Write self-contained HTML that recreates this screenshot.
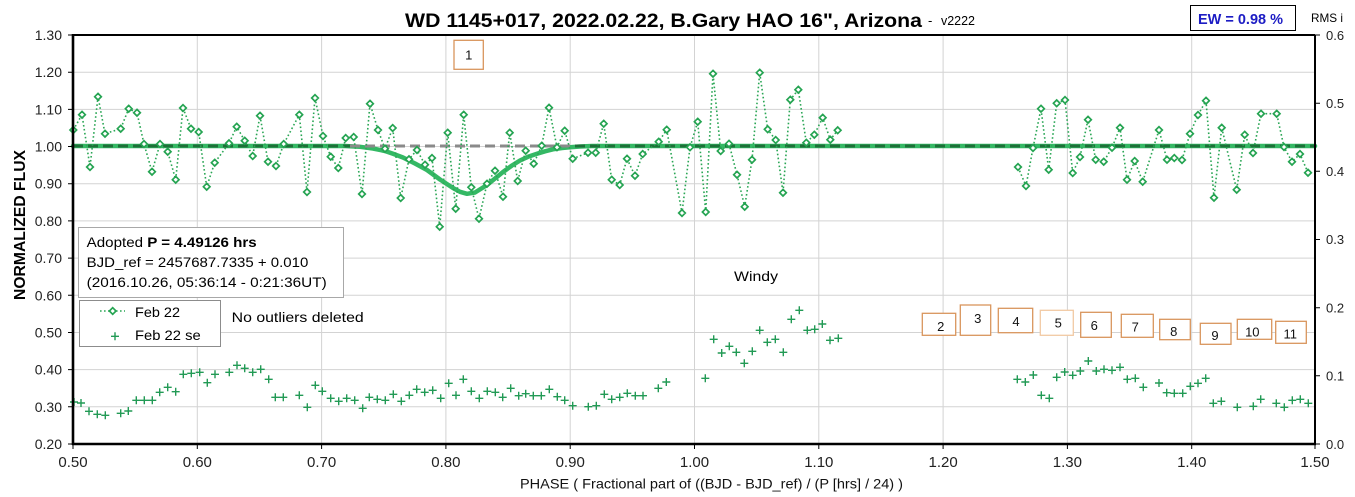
<!DOCTYPE html>
<html><head><meta charset="utf-8"><style>
html,body{margin:0;padding:0;background:#fff;}
svg{display:block;}
text{font-family:"Liberation Sans",Arial,sans-serif;}
</style></head><body>
<svg width="1355" height="497" viewBox="0 0 1355 497" xmlns="http://www.w3.org/2000/svg">
<rect width="1355" height="497" fill="#fff"/>
<!-- gridlines -->
<g stroke="#d3d3d3" stroke-width="1">
<path d="M197.3,35V444M321.6,35V444M445.9,35V444M570.2,35V444M694.5,35V444M818.8,35V444M943.1,35V444M1067.4,35V444M1191.7,35V444"/>
<path d="M73,72.2H1315M73,109.4H1315M73,146.5H1315M73,183.7H1315M73,220.9H1315M73,258.1H1315M73,295.3H1315M73,332.5H1315M73,369.6H1315M73,406.8H1315"/>
</g>
<!-- title -->
<text x="405" y="27" font-size="19" font-weight="bold" textLength="517" lengthAdjust="spacingAndGlyphs">WD 1145+017, 2022.02.22, B.Gary HAO 16", Arizona</text>
<text x="928" y="25" font-size="13">-</text>
<text x="941" y="25" font-size="13" textLength="34" lengthAdjust="spacingAndGlyphs">v2222</text>
<rect x="1190.5" y="5.5" width="105" height="25" fill="#fff" stroke="#000" stroke-width="1"/>
<text x="1240.5" y="24" font-size="15" font-weight="bold" fill="#1c1cc4" text-anchor="middle" textLength="85" lengthAdjust="spacingAndGlyphs">EW = 0.98 %</text>
<text x="1311" y="22" font-size="12" textLength="32" lengthAdjust="spacingAndGlyphs">RMS i</text>
<!-- model -->
<polyline fill="none" stroke="#34b864" stroke-width="4.5" stroke-linejoin="round" stroke-linecap="round" points="73,146 345,146 360,146.8 373,148.5 385,151 393,153.8 403,157.5 415,163.5 427,170 440,179.5 453,188 460,191.8 467,193.8 475,192.5 487,185 495,178.5 503,172 512,165.5 520,160.5 528,156.8 537,153.8 545,151.3 553,149.3 562,148 570,147.2 580,146.5 592,146 1315,146"/>
<path d="M73,146H350" stroke="#1d7038" stroke-width="3" stroke-dasharray="10,5"/>
<path d="M350,146H575" stroke="#8a8a8a" stroke-width="3" stroke-dasharray="10,5"/>
<path d="M575,146H1315" stroke="#1d7038" stroke-width="3" stroke-dasharray="10,5"/>
<!-- data dotted lines -->
<g fill="none" stroke="#2aa655" stroke-width="1.6" stroke-dasharray="1.6,2.4">
<polyline points="73.3,130 82,114.7 90,167 98,96.7 105,133.7 120.7,128.7 128.7,108.7 137,112.7 144,144 152,171.7 160,144 167.7,151.7 175.7,179.7 183,108 191,128.7 198.7,132 206.7,186.7 214.7,162.7 229,143.3 236.7,126.7 244.7,140.7 252.7,156 260,115.7 268,161.7 276,166 283.7,144 299.3,114.7 307,192 315,98 323,136 330.7,156.7 338.3,168 345.7,138 353.7,137 362,194 370,103.7 378,130 385,148.7 392.7,128 400.7,198 409,159.3 417,150 425,164.7 432,158 439.7,226.7 447.7,132.7 455.7,208.7 463.7,114.7 471.3,187.3 479,218.7 487,183.7 495,170.7 503,196.7 509.7,132.7 517.7,181 525.7,150.7 533.7,163.7 541.7,145.7 549,107.7 557,147.3 564.7,130.7 572.7,158.7 588,152.7 595.7,152.7 603.7,123.7 611.7,179.7 619.7,185 627,158.7 635,175.7 642.7,154 658.7,141.7 666.7,129.7 682,213 690,147.3 697.7,121.7 705.7,212 713,73.7 720.7,151 729,143.7 737,174.7 744.7,206.7 752,159.7 759.7,72.7 767.7,129.3 775.7,140 783,192.7 790.3,99.7 798.3,89.7 806.3,142.7 814.3,134.7 822.7,117.7 830.3,139.7 837.7,130.3"/>
<polyline points="1018,167 1026,186 1033,148 1041,108.7 1048.7,169.7 1056.7,103.3 1065,100 1072.7,173 1080,157 1088,119.7 1095.7,159.7 1103.7,161.7 1112,147.7 1120,127.7 1127,179.7 1134.7,161 1142.7,181.7 1159,130 1167,159.7 1174.3,158 1182,160 1190,133.7 1198,115 1206,100.7 1214,197.7 1221.7,127.7 1236.7,189.7 1244.7,134.7 1253,153 1261,113.7 1276.7,113.7 1284,147 1292,161.7 1300,154 1308,172.7"/>
</g>
<!-- diamonds -->
<path id="dm" fill="#fff" stroke="#25a452" stroke-width="1.7" d="
M73.3,126.7l3.3,3.3l-3.3,3.3l-3.3,-3.3z M82,111.4l3.3,3.3l-3.3,3.3l-3.3,-3.3z M90,163.7l3.3,3.3l-3.3,3.3l-3.3,-3.3z M98,93.4l3.3,3.3l-3.3,3.3l-3.3,-3.3z M105,130.4l3.3,3.3l-3.3,3.3l-3.3,-3.3z M120.7,125.4l3.3,3.3l-3.3,3.3l-3.3,-3.3z M128.7,105.4l3.3,3.3l-3.3,3.3l-3.3,-3.3z M137,109.4l3.3,3.3l-3.3,3.3l-3.3,-3.3z M144,140.7l3.3,3.3l-3.3,3.3l-3.3,-3.3z M152,168.4l3.3,3.3l-3.3,3.3l-3.3,-3.3z M160,140.7l3.3,3.3l-3.3,3.3l-3.3,-3.3z M167.7,148.4l3.3,3.3l-3.3,3.3l-3.3,-3.3z M175.7,176.4l3.3,3.3l-3.3,3.3l-3.3,-3.3z M183,104.7l3.3,3.3l-3.3,3.3l-3.3,-3.3z M191,125.4l3.3,3.3l-3.3,3.3l-3.3,-3.3z M198.7,128.7l3.3,3.3l-3.3,3.3l-3.3,-3.3z M206.7,183.4l3.3,3.3l-3.3,3.3l-3.3,-3.3z M214.7,159.4l3.3,3.3l-3.3,3.3l-3.3,-3.3z M229,140l3.3,3.3l-3.3,3.3l-3.3,-3.3z M236.7,123.4l3.3,3.3l-3.3,3.3l-3.3,-3.3z M244.7,137.4l3.3,3.3l-3.3,3.3l-3.3,-3.3z M252.7,152.7l3.3,3.3l-3.3,3.3l-3.3,-3.3z M260,112.4l3.3,3.3l-3.3,3.3l-3.3,-3.3z M268,158.4l3.3,3.3l-3.3,3.3l-3.3,-3.3z M276,162.7l3.3,3.3l-3.3,3.3l-3.3,-3.3z M283.7,140.7l3.3,3.3l-3.3,3.3l-3.3,-3.3z M299.3,111.4l3.3,3.3l-3.3,3.3l-3.3,-3.3z M307,188.7l3.3,3.3l-3.3,3.3l-3.3,-3.3z M315,94.7l3.3,3.3l-3.3,3.3l-3.3,-3.3z M323,132.7l3.3,3.3l-3.3,3.3l-3.3,-3.3z M330.7,153.4l3.3,3.3l-3.3,3.3l-3.3,-3.3z M338.3,164.7l3.3,3.3l-3.3,3.3l-3.3,-3.3z M345.7,134.7l3.3,3.3l-3.3,3.3l-3.3,-3.3z M353.7,133.7l3.3,3.3l-3.3,3.3l-3.3,-3.3z M362,190.7l3.3,3.3l-3.3,3.3l-3.3,-3.3z M370,100.4l3.3,3.3l-3.3,3.3l-3.3,-3.3z M378,126.7l3.3,3.3l-3.3,3.3l-3.3,-3.3z M385,145.4l3.3,3.3l-3.3,3.3l-3.3,-3.3z M392.7,124.7l3.3,3.3l-3.3,3.3l-3.3,-3.3z M400.7,194.7l3.3,3.3l-3.3,3.3l-3.3,-3.3z M409,156l3.3,3.3l-3.3,3.3l-3.3,-3.3z M417,146.7l3.3,3.3l-3.3,3.3l-3.3,-3.3z M425,161.4l3.3,3.3l-3.3,3.3l-3.3,-3.3z M432,154.7l3.3,3.3l-3.3,3.3l-3.3,-3.3z M439.7,223.4l3.3,3.3l-3.3,3.3l-3.3,-3.3z M447.7,129.4l3.3,3.3l-3.3,3.3l-3.3,-3.3z M455.7,205.4l3.3,3.3l-3.3,3.3l-3.3,-3.3z M463.7,111.4l3.3,3.3l-3.3,3.3l-3.3,-3.3z M471.3,184l3.3,3.3l-3.3,3.3l-3.3,-3.3z M479,215.4l3.3,3.3l-3.3,3.3l-3.3,-3.3z M487,180.4l3.3,3.3l-3.3,3.3l-3.3,-3.3z M495,167.4l3.3,3.3l-3.3,3.3l-3.3,-3.3z M503,193.4l3.3,3.3l-3.3,3.3l-3.3,-3.3z M509.7,129.4l3.3,3.3l-3.3,3.3l-3.3,-3.3z M517.7,177.7l3.3,3.3l-3.3,3.3l-3.3,-3.3z M525.7,147.4l3.3,3.3l-3.3,3.3l-3.3,-3.3z M533.7,160.4l3.3,3.3l-3.3,3.3l-3.3,-3.3z M541.7,142.4l3.3,3.3l-3.3,3.3l-3.3,-3.3z M549,104.4l3.3,3.3l-3.3,3.3l-3.3,-3.3z M557,144l3.3,3.3l-3.3,3.3l-3.3,-3.3z M564.7,127.4l3.3,3.3l-3.3,3.3l-3.3,-3.3z M572.7,155.4l3.3,3.3l-3.3,3.3l-3.3,-3.3z M588,149.4l3.3,3.3l-3.3,3.3l-3.3,-3.3z M595.7,149.4l3.3,3.3l-3.3,3.3l-3.3,-3.3z M603.7,120.4l3.3,3.3l-3.3,3.3l-3.3,-3.3z M611.7,176.4l3.3,3.3l-3.3,3.3l-3.3,-3.3z M619.7,181.7l3.3,3.3l-3.3,3.3l-3.3,-3.3z M627,155.4l3.3,3.3l-3.3,3.3l-3.3,-3.3z M635,172.4l3.3,3.3l-3.3,3.3l-3.3,-3.3z M642.7,150.7l3.3,3.3l-3.3,3.3l-3.3,-3.3z M658.7,138.4l3.3,3.3l-3.3,3.3l-3.3,-3.3z M666.7,126.4l3.3,3.3l-3.3,3.3l-3.3,-3.3z M682,209.7l3.3,3.3l-3.3,3.3l-3.3,-3.3z M690,144l3.3,3.3l-3.3,3.3l-3.3,-3.3z M697.7,118.4l3.3,3.3l-3.3,3.3l-3.3,-3.3z M705.7,208.7l3.3,3.3l-3.3,3.3l-3.3,-3.3z M713,70.4l3.3,3.3l-3.3,3.3l-3.3,-3.3z M720.7,147.7l3.3,3.3l-3.3,3.3l-3.3,-3.3z M729,140.4l3.3,3.3l-3.3,3.3l-3.3,-3.3z M737,171.4l3.3,3.3l-3.3,3.3l-3.3,-3.3z M744.7,203.4l3.3,3.3l-3.3,3.3l-3.3,-3.3z M752,156.4l3.3,3.3l-3.3,3.3l-3.3,-3.3z M759.7,69.4l3.3,3.3l-3.3,3.3l-3.3,-3.3z M767.7,126l3.3,3.3l-3.3,3.3l-3.3,-3.3z M775.7,136.7l3.3,3.3l-3.3,3.3l-3.3,-3.3z M783,189.4l3.3,3.3l-3.3,3.3l-3.3,-3.3z M790.3,96.4l3.3,3.3l-3.3,3.3l-3.3,-3.3z M798.3,86.4l3.3,3.3l-3.3,3.3l-3.3,-3.3z M806.3,139.4l3.3,3.3l-3.3,3.3l-3.3,-3.3z M814.3,131.4l3.3,3.3l-3.3,3.3l-3.3,-3.3z M822.7,114.4l3.3,3.3l-3.3,3.3l-3.3,-3.3z M830.3,136.4l3.3,3.3l-3.3,3.3l-3.3,-3.3z M837.7,127l3.3,3.3l-3.3,3.3l-3.3,-3.3z
M1018,163.7l3.3,3.3l-3.3,3.3l-3.3,-3.3z M1026,182.7l3.3,3.3l-3.3,3.3l-3.3,-3.3z M1033,144.7l3.3,3.3l-3.3,3.3l-3.3,-3.3z M1041,105.4l3.3,3.3l-3.3,3.3l-3.3,-3.3z M1048.7,166.4l3.3,3.3l-3.3,3.3l-3.3,-3.3z M1056.7,100l3.3,3.3l-3.3,3.3l-3.3,-3.3z M1065,96.7l3.3,3.3l-3.3,3.3l-3.3,-3.3z M1072.7,169.7l3.3,3.3l-3.3,3.3l-3.3,-3.3z M1080,153.7l3.3,3.3l-3.3,3.3l-3.3,-3.3z M1088,116.4l3.3,3.3l-3.3,3.3l-3.3,-3.3z M1095.7,156.4l3.3,3.3l-3.3,3.3l-3.3,-3.3z M1103.7,158.4l3.3,3.3l-3.3,3.3l-3.3,-3.3z M1112,144.4l3.3,3.3l-3.3,3.3l-3.3,-3.3z M1120,124.4l3.3,3.3l-3.3,3.3l-3.3,-3.3z M1127,176.4l3.3,3.3l-3.3,3.3l-3.3,-3.3z M1134.7,157.7l3.3,3.3l-3.3,3.3l-3.3,-3.3z M1142.7,178.4l3.3,3.3l-3.3,3.3l-3.3,-3.3z M1159,126.7l3.3,3.3l-3.3,3.3l-3.3,-3.3z M1167,156.4l3.3,3.3l-3.3,3.3l-3.3,-3.3z M1174.3,154.7l3.3,3.3l-3.3,3.3l-3.3,-3.3z M1182,156.7l3.3,3.3l-3.3,3.3l-3.3,-3.3z M1190,130.4l3.3,3.3l-3.3,3.3l-3.3,-3.3z M1198,111.7l3.3,3.3l-3.3,3.3l-3.3,-3.3z M1206,97.4l3.3,3.3l-3.3,3.3l-3.3,-3.3z M1214,194.4l3.3,3.3l-3.3,3.3l-3.3,-3.3z M1221.7,124.4l3.3,3.3l-3.3,3.3l-3.3,-3.3z M1236.7,186.4l3.3,3.3l-3.3,3.3l-3.3,-3.3z M1244.7,131.4l3.3,3.3l-3.3,3.3l-3.3,-3.3z M1253,149.7l3.3,3.3l-3.3,3.3l-3.3,-3.3z M1261,110.4l3.3,3.3l-3.3,3.3l-3.3,-3.3z M1276.7,110.4l3.3,3.3l-3.3,3.3l-3.3,-3.3z M1284,143.7l3.3,3.3l-3.3,3.3l-3.3,-3.3z M1292,158.4l3.3,3.3l-3.3,3.3l-3.3,-3.3z M1300,150.7l3.3,3.3l-3.3,3.3l-3.3,-3.3z M1308,169.4l3.3,3.3l-3.3,3.3l-3.3,-3.3z"/>
<!-- se plus markers -->
<path fill="none" stroke="#229a55" stroke-width="1.4" d="
M70,402h8M74,398v8 M77,403h8M81,399v8 M85,411.3h8M89,407.3v8 M93.3,414.3h8M97.3,410.3v8 M101.3,415.3h8M105.3,411.3v8 M116.7,413.3h8M120.7,409.3v8 M124.3,411h8M128.3,407v8 M132.3,400.3h8M136.3,396.3v8 M140.3,400.3h8M144.3,396.3v8 M148.3,400.3h8M152.3,396.3v8 M155.7,392.3h8M159.7,388.3v8 M163.7,387.3h8M167.7,383.3v8 M171.7,391.7h8M175.7,387.7v8 M179.3,374.3h8M183.3,370.3v8 M187.3,373.3h8M191.3,369.3v8 M195.7,372.3h8M199.7,368.3v8 M203.3,382.7h8M207.3,378.7v8 M211,374.3h8M215,370.3v8 M225.3,372.3h8M229.3,368.3v8 M233,365.3h8M237,361.3v8 M240.7,368.3h8M244.7,364.3v8 M248.7,372.3h8M252.7,368.3v8 M256.7,369.3h8M260.7,365.3v8 M264.7,379.3h8M268.7,375.3v8 M271.3,397.3h8M275.3,393.3v8 M279.3,397.3h8M283.3,393.3v8 M295.3,395.3h8M299.3,391.3v8 M303.3,407.3h8M307.3,403.3v8 M311.3,385.3h8M315.3,381.3v8 M318.3,391.3h8M322.3,387.3v8 M326.7,398.3h8M330.7,394.3v8 M334.7,401.3h8M338.7,397.3v8 M342.7,398.3h8M346.7,394.3v8 M350.7,400.3h8M354.7,396.3v8 M358.7,408.3h8M362.7,404.3v8 M365.3,397.3h8M369.3,393.3v8 M373.3,399.3h8M377.3,395.3v8 M381.3,400.3h8M385.3,396.3v8 M389.3,394.3h8M393.3,390.3v8 M397.3,401.3h8M401.3,397.3v8 M405.3,395.3h8M409.3,391.3v8 M412.7,389.3h8M416.7,385.3v8 M420.7,392.3h8M424.7,388.3v8 M428.7,390.3h8M432.7,386.3v8 M436.7,398.3h8M440.7,394.3v8 M444.7,383.3h8M448.7,379.3v8 M452,395.3h8M456,391.3v8 M459.3,379.3h8M463.3,375.3v8 M467.3,391.3h8M471.3,387.3v8 M475.3,398.3h8M479.3,394.3v8 M483.3,391.3h8M487.3,387.3v8 M491.3,392.3h8M495.3,388.3v8 M498.7,397.3h8M502.7,393.3v8 M506.7,388.3h8M510.7,384.3v8 M514.7,395.7h8M518.7,391.7v8 M521.7,393.7h8M525.7,389.7v8 M529.3,395.7h8M533.3,391.7v8 M537.3,395.7h8M541.3,391.7v8 M545.3,389.3h8M549.3,385.3v8 M553.3,396.7h8M557.3,392.7v8 M560.7,400.3h8M564.7,396.3v8 M568.7,405.7h8M572.7,401.7v8 M584.3,406.7h8M588.3,402.7v8 M592.3,405.7h8M596.3,401.7v8 M600.3,394.3h8M604.3,390.3v8 M607.7,399.3h8M611.7,395.3v8 M615.7,397.3h8M619.7,393.3v8 M623.3,393.3h8M627.3,389.3v8 M631.3,395.7h8M635.3,391.7v8 M639,395.7h8M643,391.7v8 M654.3,388.3h8M658.3,384.3v8 M662.3,382h8M666.3,378v8 M701.3,378.3h8M705.3,374.3v8 M709.7,339.3h8M713.7,335.3v8 M717.7,353h8M721.7,349v8 M725.3,346.3h8M729.3,342.3v8 M732.3,352.3h8M736.3,348.3v8 M740.3,363.3h8M744.3,359.3v8 M748.3,351.3h8M752.3,347.3v8 M755.7,330.3h8M759.7,326.3v8 M763.3,342.3h8M767.3,338.3v8 M771.3,339.3h8M775.3,335.3v8 M779.3,352.3h8M783.3,348.3v8 M787.3,319.3h8M791.3,315.3v8 M795.3,310.3h8M799.3,306.3v8 M803.3,330.3h8M807.3,326.3v8 M810.7,329.3h8M814.7,325.3v8 M818.3,324h8M822.3,320v8 M826,340.3h8M830,336.3v8 M834.3,338.3h8M838.3,334.3v8
M1013.3,379.3h8M1017.3,375.3v8 M1021.3,382h8M1025.3,378v8 M1029.3,375h8M1033.3,371v8 M1037.3,395.3h8M1041.3,391.3v8 M1045.3,398.3h8M1049.3,394.3v8 M1052.7,377.3h8M1056.7,373.3v8 M1060.7,372h8M1064.7,368v8 M1068.7,375.3h8M1072.7,371.3v8 M1076.3,371h8M1080.3,367v8 M1084.3,361h8M1088.3,357v8 M1092.3,371h8M1096.3,367v8 M1100,369.3h8M1104,365.3v8 M1108,370.3h8M1112,366.3v8 M1116,367.3h8M1120,363.3v8 M1123.3,379.3h8M1127.3,375.3v8 M1131.3,378.3h8M1135.3,374.3v8 M1139.3,387.3h8M1143.3,383.3v8 M1155,383h8M1159,379v8 M1162.7,392.7h8M1166.7,388.7v8 M1170.3,393.3h8M1174.3,389.3v8 M1178.7,393.3h8M1182.7,389.3v8 M1186.3,386.3h8M1190.3,382.3v8 M1194,383.3h8M1198,379.3v8 M1201.7,378.3h8M1205.7,374.3v8 M1209.3,403.3h8M1213.3,399.3v8 M1217.3,401.3h8M1221.3,397.3v8 M1233.3,407.3h8M1237.3,403.3v8 M1249.3,406.3h8M1253.3,402.3v8 M1256.7,399.3h8M1260.7,395.3v8 M1272.3,403.3h8M1276.3,399.3v8 M1280.3,407.3h8M1284.3,403.3v8 M1288.3,400.3h8M1292.3,396.3v8 M1296.3,399.3h8M1300.3,395.3v8 M1304.3,403.3h8M1308.3,399.3v8"/>
<!-- numbered boxes -->
<g fill="#fff" stroke="#d9955c" stroke-width="1.3">
<rect x="454" y="40.3" width="29.3" height="29"/>
<rect x="922.3" y="313.3" width="33.4" height="22"/>
<rect x="960.3" y="305" width="30.4" height="30.3"/>
<rect x="998.3" y="308.3" width="34.4" height="24.4"/>
<rect x="1040.3" y="310.3" width="33" height="25" stroke="#f2c9a3"/>
<rect x="1080.7" y="312.3" width="30.6" height="25"/>
<rect x="1121.3" y="314.3" width="32" height="23"/>
<rect x="1159.7" y="319.3" width="30.6" height="20.4"/>
<rect x="1200.3" y="323.3" width="30.7" height="21"/>
<rect x="1237.3" y="319.3" width="34.4" height="20"/>
<rect x="1275.7" y="321.3" width="30.6" height="22"/>
</g>
<g font-size="13" text-anchor="middle" fill="#111">
<text x="468.7" y="59.5">1</text>
<text x="940.7" y="331">2</text>
<text x="977.7" y="323">3</text>
<text x="1016" y="326">4</text>
<text x="1058.3" y="327.7">5</text>
<text x="1094.3" y="330">6</text>
<text x="1135.3" y="331.7">7</text>
<text x="1173.7" y="336">8</text>
<text x="1215" y="340">9</text>
<text x="1252.3" y="336.7">10</text>
<text x="1290.3" y="338.7">11</text>
</g>
<text x="734" y="281" font-size="14" textLength="44" lengthAdjust="spacingAndGlyphs">Windy</text>
<!-- annotation box -->
<rect x="78.5" y="227.5" width="265" height="70" fill="#fff" stroke="#a8a8a8" stroke-width="1"/>
<text x="86.7" y="247" font-size="14" textLength="170" lengthAdjust="spacingAndGlyphs">Adopted <tspan font-weight="bold">P = 4.49126 hrs</tspan></text>
<text x="86.7" y="267" font-size="14" textLength="221.6" lengthAdjust="spacingAndGlyphs">BJD_ref = 2457687.7335 + 0.010</text>
<text x="86.7" y="287" font-size="14" textLength="240" lengthAdjust="spacingAndGlyphs">(2016.10.26, 05:36:14 - 0:21:36UT)</text>
<!-- legend -->
<rect x="79.5" y="300.5" width="141" height="46" fill="#fff" stroke="#8c8c8c" stroke-width="1"/>
<path d="M100,311H125" stroke="#2aa655" stroke-width="1.6" stroke-dasharray="1.6,2.4"/>
<path d="M112.7,307.7l3.3,3.3l-3.3,3.3l-3.3,-3.3z" fill="#fff" stroke="#25a452" stroke-width="1.7"/>
<path d="M111,336.3h8M115,332.3v8" stroke="#229a55" stroke-width="1.4"/>
<text x="135" y="317" font-size="14" textLength="45" lengthAdjust="spacingAndGlyphs">Feb 22</text>
<text x="135" y="340" font-size="14" textLength="65.7" lengthAdjust="spacingAndGlyphs">Feb 22 se</text>
<text x="231.7" y="322" font-size="14" textLength="132" lengthAdjust="spacingAndGlyphs">No outliers deleted</text>
<!-- axes frame -->
<path d="M73,35H1315" stroke="#000" stroke-width="2"/>
<path d="M1315,35V444" stroke="#000" stroke-width="2"/>
<path d="M73,34V445" stroke="#000" stroke-width="2.6"/>
<path d="M72,444H1316" stroke="#000" stroke-width="2.6"/>
<!-- ticks -->
<g stroke="#000" stroke-width="1">
<path d="M68,35H73M68,72.2H73M68,109.4H73M68,146.5H73M68,183.7H73M68,220.9H73M68,258.1H73M68,295.3H73M68,332.5H73M68,369.6H73M68,406.8H73M68,444H73"/>
<path d="M73,444V449M197.3,444V449M321.6,444V449M445.9,444V449M570.2,444V449M694.5,444V449M818.8,444V449M943.1,444V449M1067.4,444V449M1191.7,444V449M1315,444V449"/>
<path d="M1315,35H1320M1315,103.2H1320M1315,171.3H1320M1315,239.5H1320M1315,307.7H1320M1315,375.8H1320M1315,444H1320"/>
</g>
<!-- y labels -->
<g font-size="14" text-anchor="end" fill="#222">
<text x="62" y="40">1.30</text>
<text x="62" y="77.2">1.20</text>
<text x="62" y="114.4">1.10</text>
<text x="62" y="151.5">1.00</text>
<text x="62" y="188.7">0.90</text>
<text x="62" y="225.9">0.80</text>
<text x="62" y="263.1">0.70</text>
<text x="62" y="300.3">0.60</text>
<text x="62" y="337.5">0.50</text>
<text x="62" y="374.6">0.40</text>
<text x="62" y="411.8">0.30</text>
<text x="62" y="449">0.20</text>
</g>
<g font-size="13" fill="#222">
<text x="1326" y="40">0.6</text>
<text x="1326" y="108">0.5</text>
<text x="1326" y="176">0.4</text>
<text x="1326" y="244">0.3</text>
<text x="1326" y="312.5">0.2</text>
<text x="1326" y="380.5">0.1</text>
<text x="1326" y="449">0.0</text>
</g>
<g font-size="15" text-anchor="middle" fill="#222">
<text x="73" y="467">0.50</text>
<text x="197.3" y="467">0.60</text>
<text x="321.6" y="467">0.70</text>
<text x="445.9" y="467">0.80</text>
<text x="570.2" y="467">0.90</text>
<text x="694.5" y="467">1.00</text>
<text x="818.8" y="467">1.10</text>
<text x="943.1" y="467">1.20</text>
<text x="1067.4" y="467">1.30</text>
<text x="1191.7" y="467">1.40</text>
<text x="1315" y="467">1.50</text>
</g>
<text x="520" y="488.5" font-size="14" fill="#111" textLength="383" lengthAdjust="spacingAndGlyphs">PHASE ( Fractional part of ((BJD - BJD_ref) / (P [hrs] / 24) )</text>
<text x="25" y="225" font-size="16" font-weight="bold" text-anchor="middle" transform="rotate(-90 25 225)" textLength="150" lengthAdjust="spacingAndGlyphs">NORMALIZED FLUX</text>
</svg>
</body></html>
